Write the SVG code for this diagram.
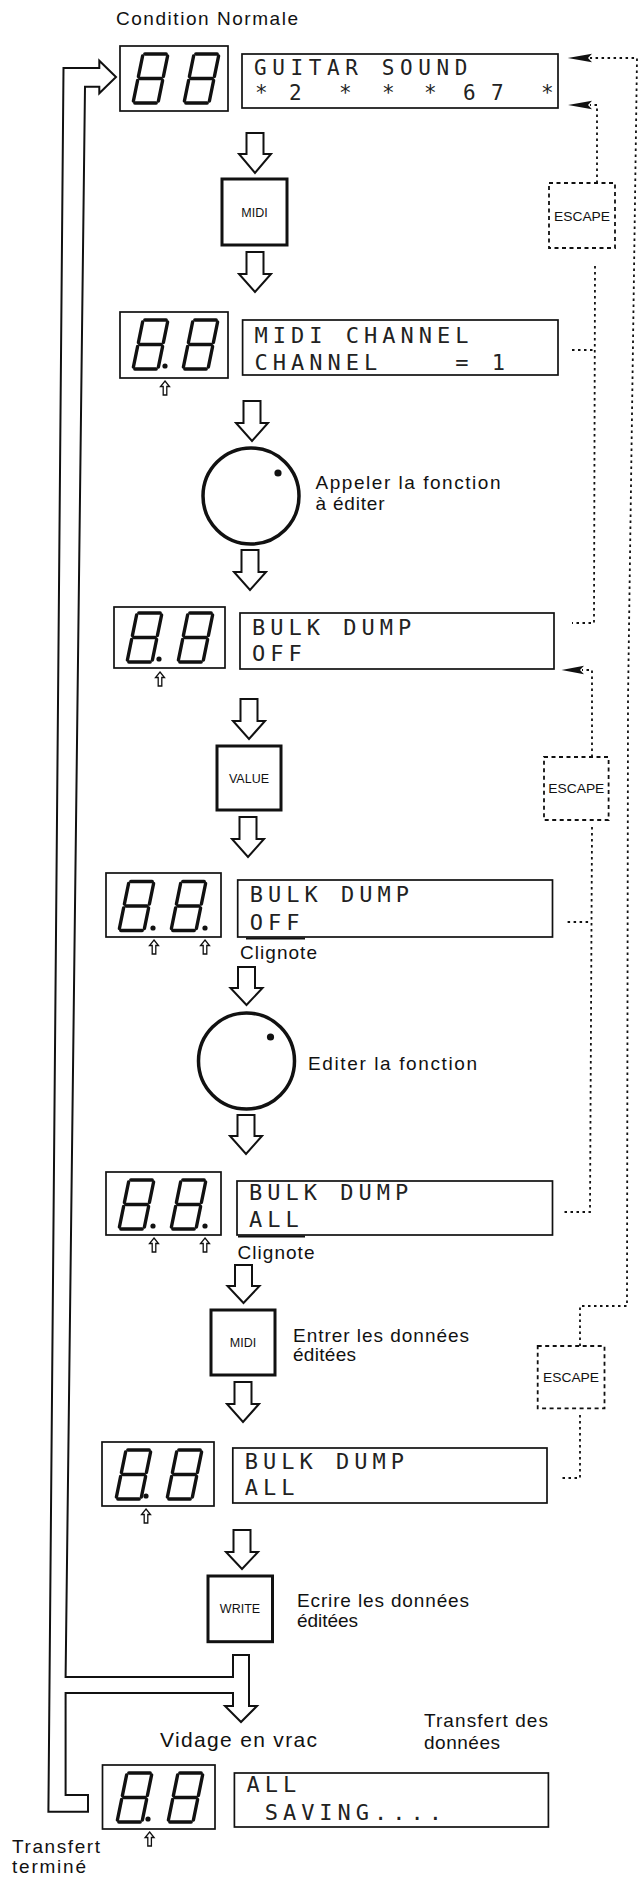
<svg xmlns="http://www.w3.org/2000/svg" xmlns:xlink="http://www.w3.org/1999/xlink" width="642" height="1884" viewBox="0 0 642 1884">
<style>
.frame{fill:#fff;stroke:#111;stroke-width:1.7}
.key{fill:#fff;stroke:#111;stroke-width:3}
.esc{fill:#fff;stroke:#111;stroke-width:1.8;stroke-dasharray:4 3.5}
.dot{fill:none;stroke:#111;stroke-width:1.8;stroke-dasharray:2.5 3.5}
.pipe{fill:none;stroke:#111;stroke-width:2;stroke-linejoin:miter}
.harrow{fill:#fff;stroke:#111;stroke-width:2}
.head{fill:#111;stroke:none}
.seg{fill:none;stroke:#111;stroke-width:3.4;stroke-linecap:round}
.dp{fill:#111}
.up{fill:#fff;stroke:#111;stroke-width:1.3}
.knob{fill:#fff;stroke:#111;stroke-width:3.5}
.lcd{font-family:"DejaVu Sans Mono","Liberation Mono",monospace;font-size:22px;letter-spacing:5px;fill:#222}
.lbl{font-family:"Liberation Sans",Arial,sans-serif;font-size:19px;fill:#111}
.kl{font-family:"Liberation Sans",Arial,sans-serif;font-size:12.5px;fill:#111;text-anchor:middle}
.ek{font-family:"Liberation Sans",Arial,sans-serif;font-size:13.5px;fill:#111}
.ul{stroke:#111;stroke-width:2}
</style>
<defs>
<g id="d8" class="seg">
<line x1="11.8" y1="0" x2="33.2" y2="0"/>
<line x1="34.6" y1="2" x2="30.4" y2="22.5"/>
<line x1="29.6" y1="26.5" x2="25.4" y2="47"/>
<line x1="23.2" y1="49" x2="1.8" y2="49"/>
<line x1="0.4" y1="47" x2="4.6" y2="26.5"/>
<line x1="5.4" y1="22.5" x2="9.6" y2="2"/>
<line x1="6.8" y1="24.5" x2="28.2" y2="24.5"/>
</g>
</defs>

<g id="connectors">
<path class="pipe" d="M63.5,68 H99.3 V60.7 L116,77 L99.3,93.3 V86.7 H85 L65.6,1677 H233 V1655 H249 V1706 H257 L241,1722 L225,1706 H233 V1693 H65.6 V1795 H88 V1811.7 H48.4 Z"/>
<path class="harrow" d="M246.5,133H263.5V154H271L255,173L239,154H246.5Z"/>
<path class="harrow" d="M246.5,252H263.5V274H271L255,292L239,274H246.5Z"/>
<path class="harrow" d="M243.5,401H260.5V423H268L252,441L236,423H243.5Z"/>
<path class="harrow" d="M241.5,550H258.5V572H266L250,590L234,572H241.5Z"/>
<path class="harrow" d="M240.5,699H257.5V721H265L249,739L233,721H240.5Z"/>
<path class="harrow" d="M239.5,817H256.5V839H264L248,857L232,839H239.5Z"/>
<path class="harrow" d="M238,967H255V988H262.5L246.5,1005L230.5,988H238Z"/>
<path class="harrow" d="M237.5,1115H254.5V1136H262L246,1154L230,1136H237.5Z"/>
<path class="harrow" d="M235,1265H252V1286H259.5L243.5,1303L227.5,1286H235Z"/>
<path class="harrow" d="M234.5,1382H251.5V1404H259L243,1422L227,1404H234.5Z"/>
<path class="harrow" d="M233.5,1530H250.5V1552H258L242,1569L226,1552H233.5Z"/>
<path class="dot" d="M580,1346 V1306 H627 L628,700 L637,58 H590"/>
<path class="head" d="M567.7,58 L592,53.8 L588,58 L592,62.2 Z"/>
<path class="dot" d="M597,183 V105 H590"/>
<path class="head" d="M568,105 L592,100.8 L588,105 L592,109.2 Z"/>
<path class="dot" d="M595,266 L594,623 H572"/>
<path class="dot" d="M572,350 H595"/>
<path class="dot" d="M592,757 V670 H582"/>
<path class="head" d="M561.5,670 L584,665.8 L580,670 L584,674.2 Z"/>
<path class="dot" d="M592,827 L590,1212 H563.5"/>
<path class="dot" d="M567.6,922 H591"/>
<path class="dot" d="M580,1415 V1478 H561.5"/>
</g>

<g id="label-condition">
<text class="lbl" x="116" y="25" textLength="182" lengthAdjust="spacing">Condition Normale</text>
</g>

<g id="led1">
<rect class="frame" x="120" y="46" width="108" height="65"/>
<use xlink:href="#d8" x="133" y="54"/>
<use xlink:href="#d8" x="184" y="54"/>
</g>
<g id="lcd1">
<rect class="frame" x="242" y="54" width="316" height="54"/>
<text class="lcd" style="font-size:21px;letter-spacing:5.6px" x="254" y="75">GUITAR SOUND</text>
<text class="lcd" style="font-size:21px;letter-spacing:0" xml:space="preserve" x="255 271 289 313 339 360 382 402 424 443 463 476 491 515 541" y="100">* 2 * * * 6 7 *</text>
</g>
<g id="esc1">
<rect class="esc" x="549" y="183" width="66" height="65"/>
<text class="ek" x="554" y="221" textLength="56" lengthAdjust="spacingAndGlyphs">ESCAPE</text>
</g>

<g id="key-midi1">
<rect class="key" x="222" y="179" width="65" height="66"/>
<text class="kl" x="254.5" y="216.5">MIDI</text>
</g>

<g id="led2">
<rect class="frame" x="120" y="312" width="108" height="66"/>
<use xlink:href="#d8" x="133" y="320"/>
<use xlink:href="#d8" x="183" y="320"/>
<circle class="dp" cx="165" cy="366" r="2.6"/>
<path class="up" d="M165,381 L169.5,386.5 H166.8 V395 H163.2 V386.5 H160.5 Z"/>
</g>
<g id="lcd2">
<rect class="frame" x="242.6" y="320" width="315.4" height="55"/>
<text class="lcd" x="254.5" y="343">MIDI CHANNEL</text>
<text class="lcd" xml:space="preserve" x="254.5" y="370">CHANNEL    = 1</text>
</g>

<g id="knob1">
<circle class="knob" cx="251" cy="496" r="48"/>
<circle class="dp" cx="278" cy="473" r="3.6"/>
</g>
<g id="label-appeler">
<text class="lbl" x="315.5" y="489" textLength="185" lengthAdjust="spacing">Appeler la fonction</text>
<text class="lbl" x="315.5" y="510" textLength="69" lengthAdjust="spacing">à éditer</text>
</g>

<g id="led3">
<rect class="frame" x="114" y="607" width="111" height="61"/>
<use xlink:href="#d8" x="127" y="613"/>
<use xlink:href="#d8" x="178" y="613"/>
<circle class="dp" cx="159" cy="659" r="2.6"/>
<path class="up" d="M160,672 L164.5,677.5 H161.8 V686 H158.2 V677.5 H155.5 Z"/>
</g>
<g id="lcd3">
<rect class="frame" x="240" y="613" width="314" height="56"/>
<text class="lcd" x="252" y="635">BULK DUMP</text>
<text class="lcd" x="252" y="661">OFF</text>
</g>

<g id="key-value">
<rect class="key" x="217" y="746" width="64" height="64"/>
<text class="kl" x="249" y="782.5">VALUE</text>
</g>
<g id="esc2">
<rect class="esc" x="544" y="757" width="64.6" height="63"/>
<text class="ek" x="548.3" y="793" textLength="56" lengthAdjust="spacingAndGlyphs">ESCAPE</text>
</g>

<g id="led4">
<rect class="frame" x="106" y="873" width="115" height="64"/>
<use xlink:href="#d8" x="119" y="881.5"/>
<use xlink:href="#d8" x="171" y="881.5"/>
<circle class="dp" cx="153" cy="928" r="2.6"/>
<circle class="dp" cx="205" cy="928" r="2.6"/>
<path class="up" d="M154,940 L158.5,945.5 H155.8 V954 H152.2 V945.5 H149.5 Z"/>
<path class="up" d="M205,940 L209.5,945.5 H206.8 V954 H203.2 V945.5 H200.5 Z"/>
</g>
<g id="lcd4">
<rect class="frame" x="237.7" y="880" width="314.8" height="57"/>
<text class="lcd" x="249.7" y="902">BULK DUMP</text>
<text class="lcd" x="249.7" y="930">OFF</text>
<line class="ul" x1="246" y1="938.5" x2="305" y2="938.5"/>
</g>
<g id="label-clignote1">
<text class="lbl" x="240" y="959" textLength="77" lengthAdjust="spacing">Clignote</text>
</g>

<g id="knob2">
<circle class="knob" cx="246.5" cy="1061" r="48"/>
<circle class="dp" cx="270.5" cy="1037" r="3.6"/>
</g>
<g id="label-editer">
<text class="lbl" x="308" y="1070" textLength="169" lengthAdjust="spacing">Editer la fonction</text>
</g>

<g id="led5">
<rect class="frame" x="106" y="1172" width="115" height="63"/>
<use xlink:href="#d8" x="119" y="1180"/>
<use xlink:href="#d8" x="171" y="1180"/>
<circle class="dp" cx="153" cy="1226" r="2.6"/>
<circle class="dp" cx="205" cy="1226" r="2.6"/>
<path class="up" d="M154,1238 L158.5,1243.5 H155.8 V1252 H152.2 V1243.5 H149.5 Z"/>
<path class="up" d="M205,1238 L209.5,1243.5 H206.8 V1252 H203.2 V1243.5 H200.5 Z"/>
</g>
<g id="lcd5">
<rect class="frame" x="237" y="1181" width="315.5" height="54"/>
<text class="lcd" x="249" y="1200">BULK DUMP</text>
<text class="lcd" x="249" y="1227">ALL</text>
<line class="ul" x1="238" y1="1236.5" x2="305" y2="1236.5"/>
</g>
<g id="label-clignote2">
<text class="lbl" x="237.5" y="1259" textLength="77" lengthAdjust="spacing">Clignote</text>
</g>

<g id="key-midi2">
<rect class="key" x="211" y="1310" width="64" height="65"/>
<text class="kl" x="243" y="1347">MIDI</text>
</g>
<g id="label-entrer">
<text class="lbl" x="293" y="1341.7" textLength="176" lengthAdjust="spacing">Entrer les données</text>
<text class="lbl" x="293" y="1361" textLength="63" lengthAdjust="spacing">éditées</text>
</g>
<g id="esc3">
<rect class="esc" x="537.7" y="1346" width="66.8" height="62.3"/>
<text class="ek" x="543" y="1381.5" textLength="56" lengthAdjust="spacingAndGlyphs">ESCAPE</text>
</g>

<g id="led6">
<rect class="frame" x="102" y="1442" width="112" height="64"/>
<use xlink:href="#d8" x="116" y="1450"/>
<use xlink:href="#d8" x="167" y="1450"/>
<circle class="dp" cx="146" cy="1496" r="2.6"/>
<path class="up" d="M146,1509 L150.5,1514.5 H147.8 V1523 H144.2 V1514.5 H141.5 Z"/>
</g>
<g id="lcd6">
<rect class="frame" x="232.8" y="1448" width="314.2" height="55"/>
<text class="lcd" x="244.8" y="1469">BULK DUMP</text>
<text class="lcd" x="244.8" y="1495">ALL</text>
</g>

<g id="key-write">
<rect class="key" x="208" y="1576" width="64.5" height="65.7"/>
<text class="kl" x="240" y="1613">WRITE</text>
</g>
<g id="label-ecrire">
<text class="lbl" x="297" y="1606.7" textLength="172" lengthAdjust="spacing">Ecrire les données</text>
<text class="lbl" x="297" y="1627" textLength="61" lengthAdjust="spacing">éditées</text>
</g>

<g id="label-vidage">
<text class="lbl" style="font-size:21px" x="160" y="1747.3" textLength="157" lengthAdjust="spacing">Vidage en vrac</text>
</g>
<g id="label-transfert-des">
<text class="lbl" x="424" y="1727.3" textLength="124" lengthAdjust="spacing">Transfert des</text>
<text class="lbl" x="424" y="1749" textLength="76" lengthAdjust="spacing">données</text>
</g>

<g id="led7">
<rect class="frame" x="102.5" y="1765" width="112.5" height="64"/>
<use xlink:href="#d8" x="117" y="1773"/>
<use xlink:href="#d8" x="168" y="1773"/>
<circle class="dp" cx="148" cy="1819" r="2.6"/>
<path class="up" d="M149.6,1832 L154.1,1837.5 H151.4 V1846 H147.8 V1837.5 H145.1 Z"/>
</g>
<g id="lcd7">
<rect class="frame" x="234.4" y="1773" width="314" height="54"/>
<text class="lcd" x="246.4" y="1792">ALL</text>
<text class="lcd" xml:space="preserve" x="246.4" y="1820"> SAVING....</text>
</g>

<g id="label-termine">
<text class="lbl" x="12" y="1853.3" textLength="88" lengthAdjust="spacing">Transfert</text>
<text class="lbl" x="12" y="1873.3" textLength="74" lengthAdjust="spacing">terminé</text>
</g>
</svg>
